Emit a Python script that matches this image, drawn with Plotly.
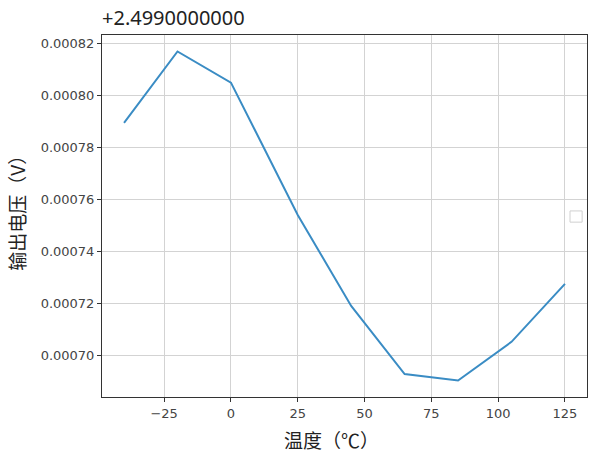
import plotly.graph_objects as go

# Data
temperature_c = [-40, -20, 0, 25, 45, 65, 85, 105, 125]
voltage_offset = 2.499
voltage_delta = [0.0007894, 0.0008169, 0.0008049, 0.0007540, 0.0007190,
                 0.0006928, 0.0006903, 0.0007052, 0.0007275]
voltage_v = [voltage_offset + d for d in voltage_delta]

x_ticks = [-25, 0, 25, 50, 75, 100, 125]
y_ticks = [0.00070, 0.00072, 0.00074, 0.00076, 0.00078, 0.00080, 0.00082]

y_plot = [v - voltage_offset for v in voltage_v]

fig = go.Figure()
fig.add_trace(go.Scatter(
    x=temperature_c, y=y_plot, mode="lines",
    line=dict(color="#3a8cc4", width=2), showlegend=False,
))

xmin, xmax = min(temperature_c), max(temperature_c)
ymin, ymax = min(y_plot), max(y_plot)
xpad = (xmax - xmin) * 0.05
ypad = (ymax - ymin) * 0.05

axis_common = dict(
    showgrid=True, gridcolor="#d3d3d3", gridwidth=1,
    showline=True, linecolor="#333333", linewidth=1, mirror=True,
    ticks="outside", ticklen=4, tickcolor="#333333",
    tickfont=dict(family="DejaVu Sans", size=13, color="#444444"),
    zeroline=False,
)

fig.update_xaxes(range=[xmin - xpad, xmax + xpad], tickvals=x_ticks,
                 ticktext=["\u221225" if t == -25 else str(t) for t in x_ticks],
                 **axis_common)
fig.update_yaxes(range=[ymin - ypad, ymax + ypad], tickvals=y_ticks,
                 tickformat=".5f", **axis_common)

fig.update_layout(
    width=590, height=454,
    margin=dict(l=102, r=3, t=35, b=57),
    paper_bgcolor="white", plot_bgcolor="white",
    annotations=[
        dict(text="+2.4990000000", xref="paper", yref="paper", x=-0.004, y=1.0,
             xanchor="left", yanchor="bottom", yshift=2, showarrow=False,
             font=dict(family="Noto Sans", size=20, color="#222222")),
        dict(text="温度（℃）", xref="paper", yref="paper", x=0.473, y=0,
             xanchor="center", yanchor="middle", yshift=-42, showarrow=False,
             font=dict(family="Noto Sans CJK SC", size=19, color="#222222")),
        dict(text="输出电压（V）", xref="paper", yref="paper", x=0, y=0.52,
             xanchor="center", yanchor="middle", xshift=-85, textangle=-90,
             showarrow=False,
             font=dict(family="Noto Sans CJK SC", size=19, color="#222222")),
    ],
    shapes=[
        dict(type="rect", xref="x domain", yref="y domain",
             x0=0.965, x1=0.99, y0=0.483, y1=0.514,
             line=dict(color="#d0d0d0", width=1), fillcolor="white"),
    ],
)

fig.write_html("out.html")
